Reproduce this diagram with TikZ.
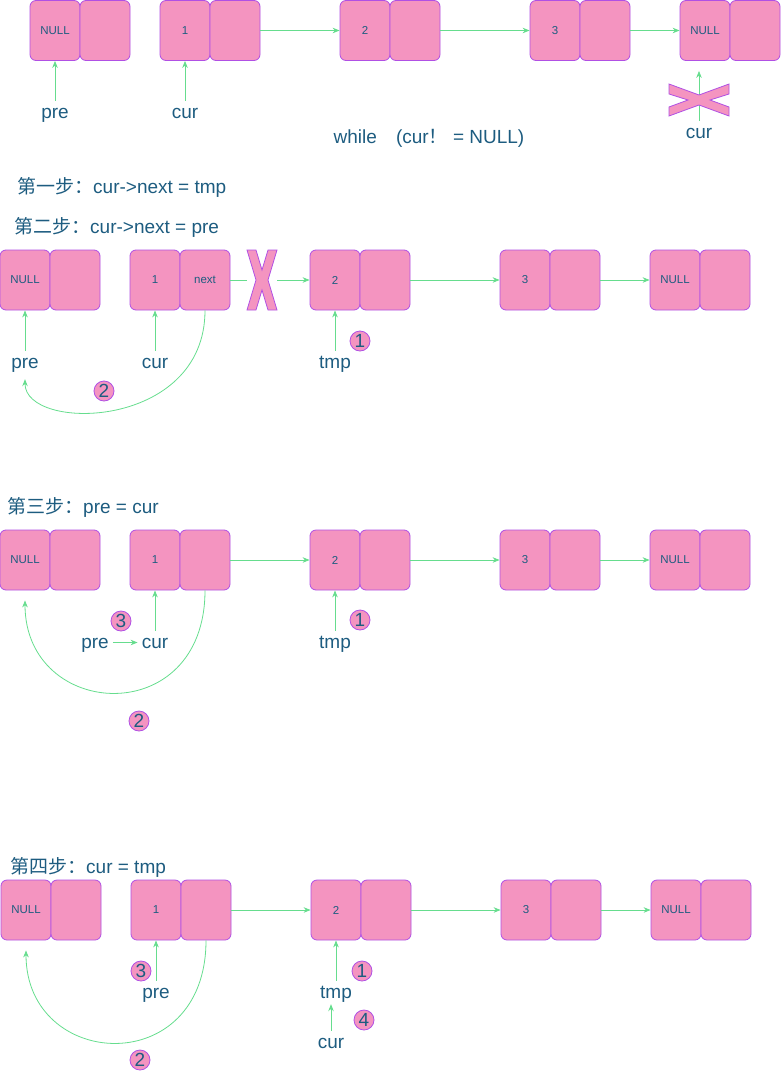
\documentclass[tikz,border=0pt]{standalone}
\usepackage{fontspec}
\setmainfont{Liberation Sans}
\newfontfamily\cjk{Noto Sans CJK SC}
\usetikzlibrary{arrows.meta}
\definecolor{cellfill}{HTML}{F494C0}
\definecolor{celldraw}{HTML}{B050E4}
\definecolor{ptrgreen}{HTML}{66DD8E}
\definecolor{txtblue}{HTML}{1D5C80}
\begin{document}
\begin{tikzpicture}[x=1pt,y=-1pt,
    cell/.style={draw=celldraw,fill=cellfill,line width=0.8pt,rounded corners=6pt,
        minimum width=50pt,minimum height=60pt,inner sep=0pt,text=txtblue,
        font=\fontsize{11.5}{12}\selectfont},
    ptr/.style={draw=ptrgreen,line width=0.8pt,-{Stealth[length=7pt,width=5.5pt]}},
    lbl/.style={text=txtblue,font=\fontsize{19}{22}\selectfont,anchor=base,
        text height=15pt,text depth=4pt,inner sep=2pt},
    head/.style={text=txtblue,font=\fontsize{19}{22}\selectfont,anchor=base west,inner sep=0pt},
    badge/.style={circle,draw=celldraw,fill=cellfill,line width=0.8pt,minimum size=20pt,
        inner sep=0pt,text=txtblue,font=\fontsize{19}{20}\selectfont},
    cross/.style={draw=celldraw,fill=cellfill,line width=0.8pt}]
    \useasboundingbox (0,0) rectangle (780,1073);

    % row 1
    \foreach \x/\t [count=\i] in {55/NULL,185/1,365/2,555/3,705/NULL} {
        \node[cell] (a\i v) at (\x,30.5) {\t};
        \node[cell] (a\i p) at (\x+50,30.5) {};
    }
    \draw[ptr] (a2p.east) -- (a3v.west);
    \draw[ptr] (a3p.east) -- (a4v.west);
    \draw[ptr] (a4p.east) -- (a5v.west);
    \node[lbl] (pre1) at (55,118) {pre};
    \node[lbl] (cur1) at (185,118) {cur};
    \draw[ptr] (pre1.north) -- (a1v.south);
    \draw[ptr] (cur1.north) -- (cur1.north |- a2v.south);
    \node[lbl] (curx) at (699,138) {cur};
    \draw[ptr,shorten >=10pt] (curx.north) -- (curx.north |- a5v.south);
    \draw[cross] (669,84) -- (699,95) -- (729,84) -- (729,94) -- (710,100) -- (729,107)
        -- (729,116) -- (699,105) -- (669,116) -- (669,107) -- (688,100) -- (669,94) -- cycle;
    \node[lbl] (loop) at (429,143) {while{\cjk 　}(cur{\cjk ！} = NULL)};

    \node[head] (step1) at (17,193) {{\cjk 第一步：}cur->next = tmp};
    \node[head] (step2) at (14,233) {{\cjk 第二步：}cur->next = pre};

    % row 2
    \foreach \x/\t/\n [count=\i] in {25/NULL/{},155/1/next,335/2/{},525/3/{},675/NULL/{}} {
        \node[cell] (b\i v) at (\x,280) {\t};
        \node[cell] (b\i p) at (\x+50,280) {\n};
    }
    \coordinate (bxl) at (247,280);
    \coordinate (bxr) at (277,280);
    \draw[ptrgreen,line width=0.8pt] (b2p.east) -- (bxl);
    \draw[ptr] (bxr) -- (b3v.west);
    \draw[ptr] (b3p.east) -- (b4v.west);
    \draw[ptr] (b4p.east) -- (b5v.west);
    \draw[cross] (247,250) -- (256,250) -- (262,270) -- (268,250) -- (277,250) -- (268,280)
        -- (277,310) -- (268,310) -- (262,290) -- (256,310) -- (247,310) -- (256,280) -- cycle;
    \node[lbl] (pre2) at (25,368) {pre};
    \node[lbl] (cur2) at (155,368) {cur};
    \node[lbl] (tmp2) at (335,368) {tmp};
    \draw[ptr] (pre2.north) -- (b1v.south);
    \draw[ptr] (cur2.north) -- (b2v.south);
    \draw[ptr] (tmp2.north) -- (b3v.south);
    \draw[ptr,shorten >=5pt] (b2p.south) .. controls +(0,120) and +(0,58) .. (pre2.south);
    \node[badge] (one2) at (360,341) {1};
    \node[badge] (two2) at (104,391) {2};

    % row 3
    \node[head] (step3) at (7,513) {{\cjk 第三步：}pre = cur};
    \foreach \x/\t [count=\i] in {25/NULL,155/1,335/2,525/3,675/NULL} {
        \node[cell] (c\i v) at (\x,560) {\t};
        \node[cell] (c\i p) at (\x+50,560) {};
    }
    \draw[ptr] (c2p.east) -- (c3v.west);
    \draw[ptr] (c3p.east) -- (c4v.west);
    \draw[ptr] (c4p.east) -- (c5v.west);
    \node[lbl] (pre3) at (95,648) {pre};
    \node[lbl] (cur3) at (155,648) {cur};
    \node[lbl] (tmp3) at (335,648) {tmp};
    \draw[ptr,shorten <=2pt,shorten >=2pt] (pre3.east) -- (cur3.west);
    \draw[ptr] (cur3.north) -- (c2v.south);
    \draw[ptr] (tmp3.north) -- (c3v.south);
    \draw[ptr,shorten >=10pt] (c2p.south) .. controls +(0,140) and +(0,130) .. (c1v.south);
    \node[badge] (three3) at (121,621) {3};
    \node[badge] (one3) at (360,620) {1};
    \node[badge] (two3) at (139,721) {2};

    % row 4
    \node[head] (step4) at (10,873) {{\cjk 第四步：}cur = tmp};
    \foreach \x/\t [count=\i] in {26/NULL,156/1,336/2,526/3,676/NULL} {
        \node[cell] (d\i v) at (\x,910) {\t};
        \node[cell] (d\i p) at (\x+50,910) {};
    }
    \draw[ptr] (d2p.east) -- (d3v.west);
    \draw[ptr] (d3p.east) -- (d4v.west);
    \draw[ptr] (d4p.east) -- (d5v.west);
    \node[lbl] (pre4) at (156,998) {pre};
    \node[lbl] (tmp4) at (336,998) {tmp};
    \node[lbl] (cur4) at (331,1048) {cur};
    \draw[ptr] (pre4.north) -- (d2v.south);
    \draw[ptr] (tmp4.north) -- (d3v.south);
    \draw[ptr] (cur4.north) -- (cur4.north |- tmp4.south);
    \draw[ptr,shorten >=10pt] (d2p.south) .. controls +(0,140) and +(0,130) .. (d1v.south);
    \node[badge] (three4) at (141,971) {3};
    \node[badge] (one4) at (362,971) {1};
    \node[badge] (four4) at (364,1020) {4};
    \node[badge] (two4) at (140,1060) {2};
\end{tikzpicture}
\end{document}
